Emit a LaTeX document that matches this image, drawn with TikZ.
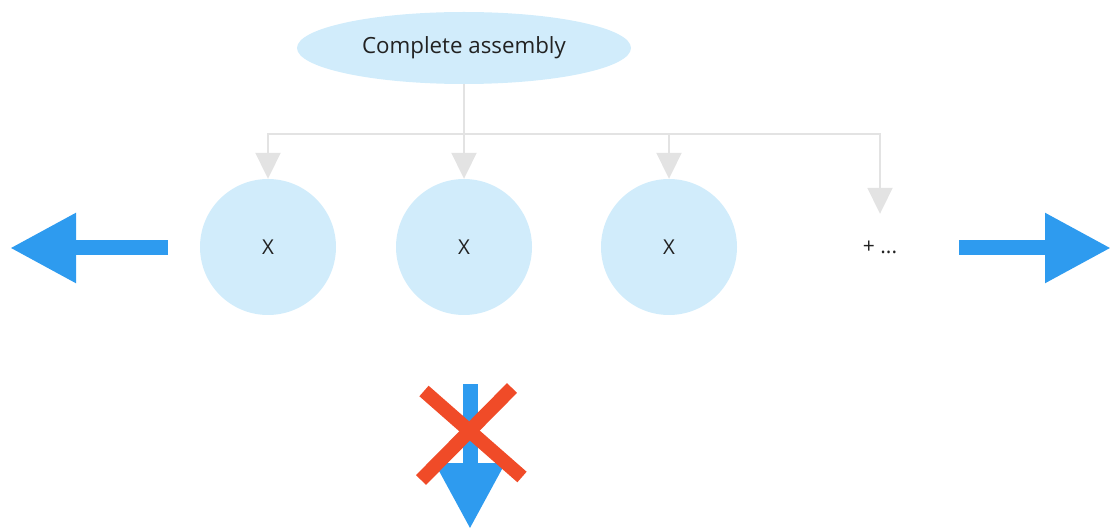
\documentclass[tikz,border=0pt]{standalone}
\usepackage{fontspec}
\setmainfont{Open Sans}
\usepackage{xcolor}
\definecolor{lblue}{RGB}{209,236,251}
\definecolor{pblue}{RGB}{46,155,239}
\definecolor{lgray}{RGB}{227,227,227}
\definecolor{xred}{RGB}{240,75,40}
\definecolor{tdark}{RGB}{34,34,34}
\usetikzlibrary{arrows.meta,shapes.geometric,positioning}

\begin{document}
\begin{tikzpicture}[x=1pt,y=-1pt,
  asm/.style={ellipse,fill=lblue,minimum width=334pt,minimum height=72pt,inner sep=0pt,text=tdark,font=\fontsize{22.3}{26}\selectfont},
  part/.style={circle,fill=lblue,minimum size=136pt,inner sep=0pt,text=tdark,font=\fontsize{20.5}{24}\selectfont},
  link/.style={draw=lgray,line width=2pt,-{Triangle[width=25pt,length=26pt]}},
  push/.style={draw=pblue,line width=15pt,-{Triangle[width=66pt,length=66pt]}},
  cross/.style={draw=xred,line width=14pt}
]
  \useasboundingbox (0,0) rectangle (1111,529);

  \node[asm] (top) at (464,48) {Complete assembly};
  \node[part] (x1) at (268,247) {X};
  \node[part] (x2) at (464,247) {X};
  \node[part] (x3) at (669,247) {X};
  \node[minimum height=66pt,inner sep=0pt,text=tdark,font=\fontsize{21}{24}\selectfont] (more) at (880,247) {+ ...};
  \coordinate (bus) at (464,134);

  \draw[link] (top) -- (x2);
  \draw[link] (bus) -| (x1.north);
  \draw[link] (bus) -| (x3.north);
  \draw[link] (bus) -| (more.north);

  % expansion sideways
  \coordinate (ltail) at (168,248);
  \coordinate (lhead) at (10,248);
  \coordinate (rtail) at (959,248);
  \coordinate (rhead) at (1111,248);
  \draw[push] (ltail) -- (lhead);
  \draw[push] (rtail) -- (rhead);

  % no expansion downwards
  \coordinate (dtail) at (470,384);
  \coordinate (dhead) at (470,529);
  \draw[push] (dtail) -- (dhead);
  \draw[cross] (424,391) -- (522,477);
  \draw[cross] (512,388) -- (421,480);
\end{tikzpicture}
\end{document}
